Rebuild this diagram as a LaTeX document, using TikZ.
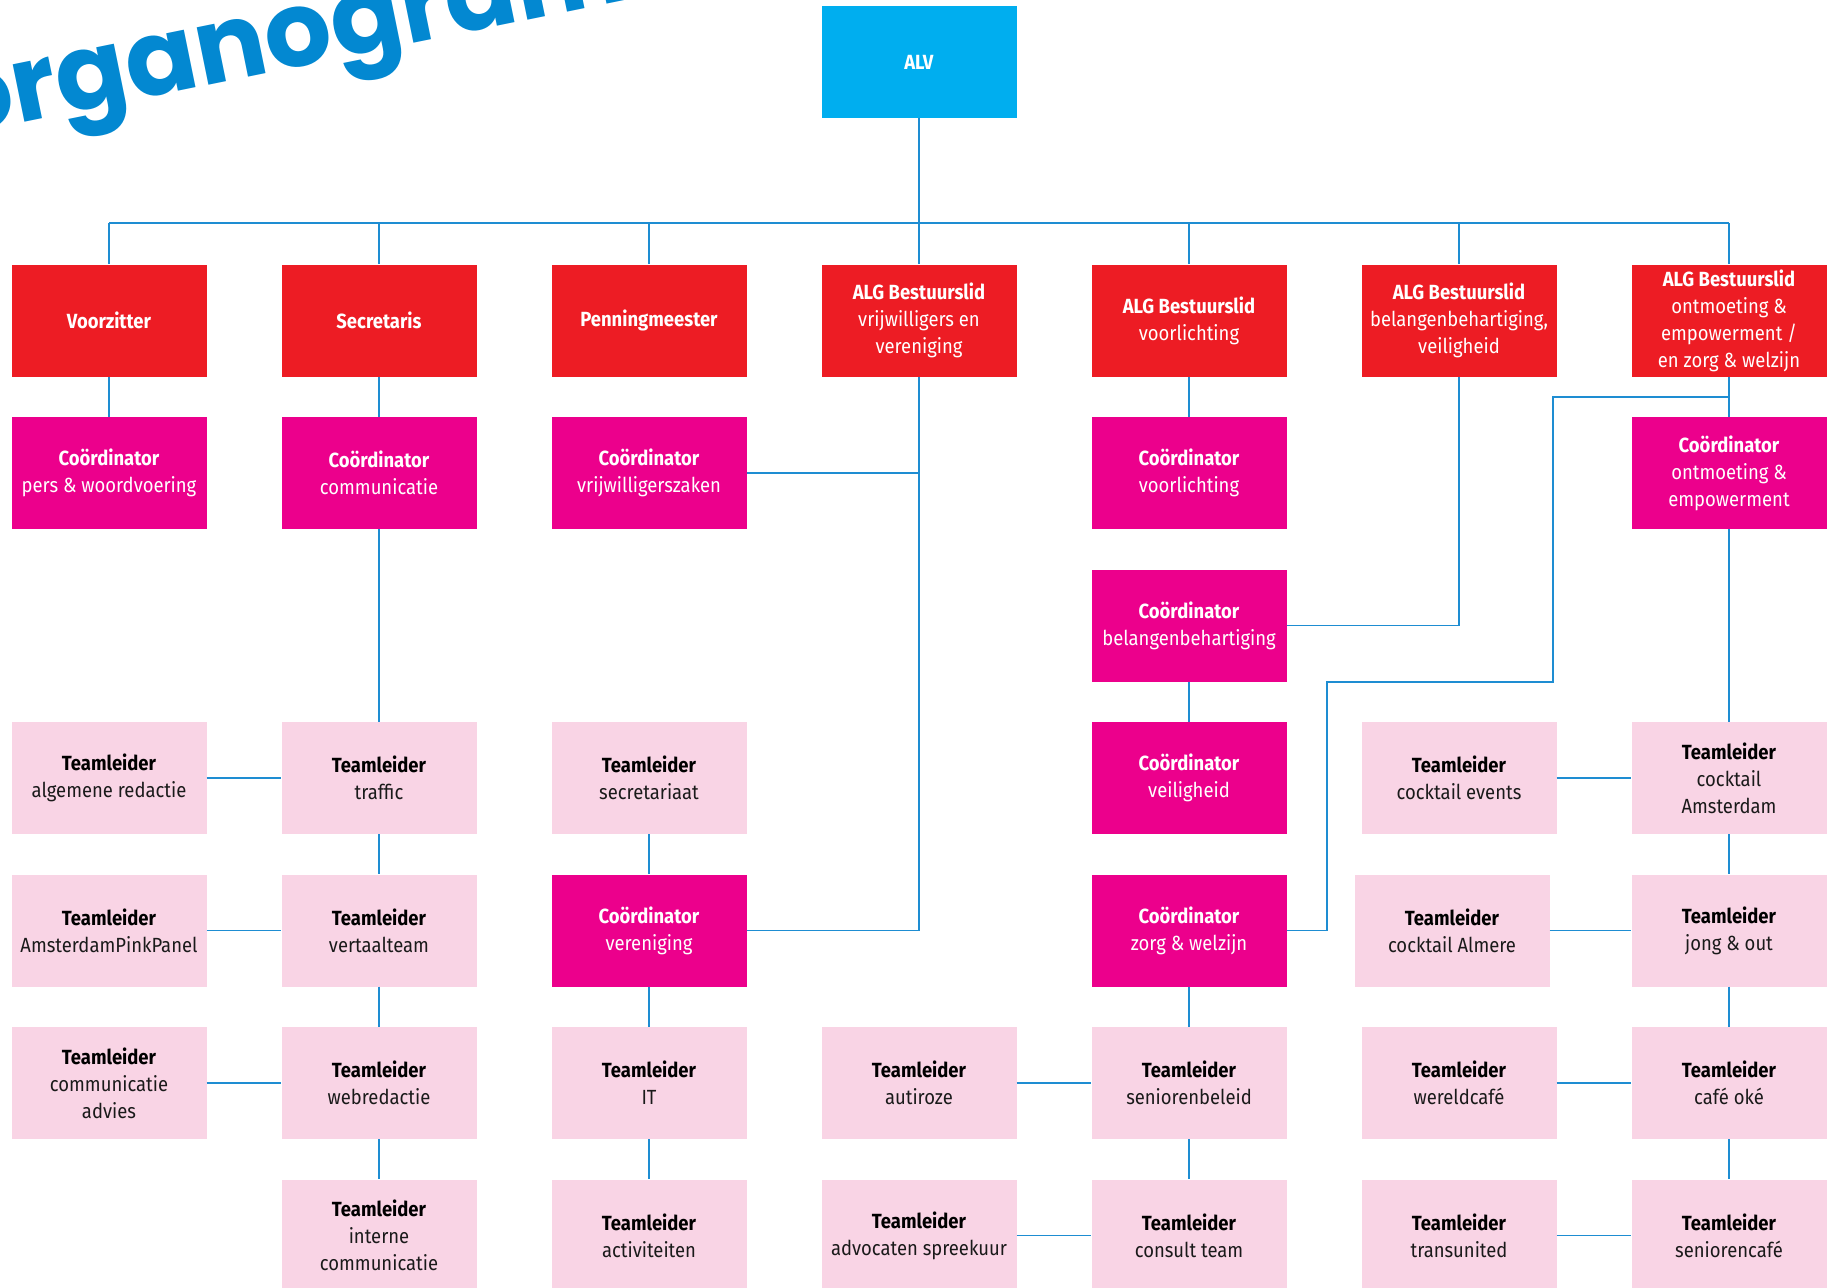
\documentclass[tikz,border=0pt]{standalone}
\usepackage{fontspec}
\setmainfont{Fira Sans}[FakeStretch=0.9]
\newfontfamily\titelfont{Poppins}
\usepackage{tikz}
\usetikzlibrary{positioning}
\definecolor{alvblue}{HTML}{00AEEF}
\definecolor{boardred}{HTML}{ED1C24}
\definecolor{coordpink}{HTML}{EC008C}
\definecolor{leadpink}{HTML}{F9D4E5}
\definecolor{linkblue}{HTML}{1E8DD2}
\definecolor{titelblue}{HTML}{0388D1}
\definecolor{leadtext}{HTML}{1A1A1A}
\tikzstyle{block} = [rectangle, minimum width=195pt, minimum height=112pt,
    inner sep=2pt, align=center, font=\fontsize{20.5}{27}\selectfont]
\tikzstyle{alv} = [block, fill=alvblue, text=white]
\tikzstyle{board} = [block, fill=boardred, text=white]
\tikzstyle{coord} = [block, fill=coordpink, text=white]
\tikzstyle{lead} = [block, fill=leadpink, text=leadtext]
\tikzstyle{link} = [draw=linkblue, line width=1.6pt]
\tikzstyle{titel} = [text=titelblue, inner sep=0pt,
    font=\titelfont\bfseries\fontsize{105}{110}\selectfont]
\newcommand{\teamleider}[1]{\textbf{\color{black}Teamleider}\\#1}
\newcommand{\coordinator}[1]{\textbf{Coördinator}\\#1}
\newcommand{\bestuurslid}[1]{\textbf{ALG Bestuurslid}\\#1}

\begin{document}
\begin{tikzpicture}[x=1pt, y=-1pt, node distance=152.5pt]
    \clip (0,0) rectangle (1830,1287);
    % titel
    \node [titel, rotate=11.5, anchor=base west] (titel) at (-47,137) {organogram};
    % bestuur
    \node [alv] (alv) at (919,62) {\textbf{ALV}};
    \node [board] (voorz) at (109,320.5) {\textbf{Voorzitter}};
    \node [board, right of=voorz, node distance=270pt] (secr) {\textbf{Secretaris}};
    \node [board, right of=secr, node distance=270pt] (penn) {\textbf{Penningmeester}};
    \node [board, right of=penn, node distance=270pt] (algvv) {\bestuurslid{vrijwilligers en\\vereniging}};
    \node [board, right of=algvv, node distance=270pt] (algvl) {\bestuurslid{voorlichting}};
    \node [board, right of=algvl, node distance=270pt] (algbv) {\bestuurslid{belangenbehartiging,\\veiligheid}};
    \node [board, right of=algbv, node distance=270pt] (algoz) {\bestuurslid{ontmoeting \&\\empowerment /\\en zorg \& welzijn}};
    % coordinatoren
    \node [coord, below of=voorz] (cpers) {\coordinator{pers \& woordvoering}};
    \node [coord, below of=secr] (ccomm) {\coordinator{communicatie}};
    \node [coord, below of=penn] (cvrijw) {\coordinator{vrijwilligerszaken}};
    \node [coord, below of=algvl] (cvoorl) {\coordinator{voorlichting}};
    \node [coord, below of=algoz] (contm) {\coordinator{ontmoeting \&\\empowerment}};
    \node [coord, below of=cvoorl] (cbelang) {\coordinator{belangenbehartiging}};
    \node [coord, below of=cbelang] (cveilig) {\coordinator{veiligheid}};
    \node [coord, below of=cveilig] (czorg) {\coordinator{zorg \& welzijn}};
    % teamleiders
    \node [lead, below of=ccomm, node distance=305pt] (ttraffic) {\teamleider{traffic}};
    \node [lead, left of=ttraffic, node distance=270pt] (tredactie) {\teamleider{algemene redactie}};
    \node [lead, right of=ttraffic, node distance=270pt] (tsecr) {\teamleider{secretariaat}};
    \node [lead, below of=contm, node distance=305pt] (tamsterdam) {\teamleider{cocktail\\Amsterdam}};
    \node [lead, left of=tamsterdam, node distance=270pt] (tevents) {\teamleider{cocktail events}};
    \node [lead, below of=tredactie] (tpink) {\teamleider{AmsterdamPinkPanel}};
    \node [lead, below of=ttraffic] (tvertaal) {\teamleider{vertaalteam}};
    \node [coord, below of=tsecr] (cvereniging) {\coordinator{vereniging}};
    \node [lead, below of=tevents, xshift=-7pt] (talmere) {\teamleider{cocktail Almere}};
    \node [lead, below of=tamsterdam] (tjong) {\teamleider{jong \& out}};
    \node [lead, below of=tpink] (tadvies) {\teamleider{communicatie\\advies}};
    \node [lead, below of=tvertaal] (tweb) {\teamleider{webredactie}};
    \node [lead, below of=cvereniging] (tit) {\teamleider{IT}};
    \node [lead, below of=czorg] (tsenior) {\teamleider{seniorenbeleid}};
    \node [lead, left of=tsenior, node distance=270pt] (tautiroze) {\teamleider{autiroze}};
    \node [lead, below of=tjong] (tcafe) {\teamleider{café oké}};
    \node [lead, left of=tcafe, node distance=270pt] (twereld) {\teamleider{wereldcafé}};
    \node [lead, below of=tweb] (tintern) {\teamleider{interne\\communicatie}};
    \node [lead, below of=tit] (tactiv) {\teamleider{activiteiten}};
    \node [lead, below of=tsenior] (tconsult) {\teamleider{consult team}};
    \node [lead, left of=tconsult, node distance=270pt] (tadvocaat) {\teamleider{advocaten spreekuur}};
    \node [lead, below of=tcafe] (tsenioren) {\teamleider{seniorencafé}};
    \node [lead, left of=tsenioren, node distance=270pt] (ttrans) {\teamleider{transunited}};
    % lijnen
    \coordinate (bus) at (919,223);
    \coordinate (ozA) at (1553,397);
    \coordinate (ozB) at (1327,682);
    \draw [link] (alv) -- (bus);
    \draw [link] (voorz |- bus) -- (algoz |- bus);
    \draw [link] (voorz |- bus) -- (voorz);
    \draw [link] (secr |- bus) -- (secr);
    \draw [link] (penn |- bus) -- (penn);
    \draw [link] (algvv |- bus) -- (algvv);
    \draw [link] (algvl |- bus) -- (algvl);
    \draw [link] (algbv |- bus) -- (algbv);
    \draw [link] (algoz |- bus) -- (algoz);
    \draw [link] (voorz) -- (cpers);
    \draw [link] (secr) -- (ccomm) -- (ttraffic) -- (tvertaal) -- (tweb) -- (tintern);
    \draw [link] (algvv) |- (cvereniging);
    \draw [link] (algvv |- cvrijw) -- (cvrijw);
    \draw [link] (algvl) -- (cvoorl);
    \draw [link] (algbv) |- (cbelang);
    \draw [link] (cbelang) -- (cveilig);
    \draw [link] (algoz) -- (contm) -- (tamsterdam) -- (tjong) -- (tcafe) -- (tsenioren);
    \draw [link] (algoz) |- (ozA) |- (ozB) |- (czorg);
    \draw [link] (tsecr) -- (cvereniging) -- (tit) -- (tactiv);
    \draw [link] (czorg) -- (tsenior) -- (tconsult);
    \draw [link] (tredactie) -- (ttraffic);
    \draw [link] (tpink) -- (tvertaal);
    \draw [link] (tadvies) -- (tweb);
    \draw [link] (tautiroze) -- (tsenior);
    \draw [link] (tadvocaat) -- (tconsult);
    \draw [link] (tevents) -- (tamsterdam);
    \draw [link] (talmere) -- (tjong);
    \draw [link] (twereld) -- (tcafe);
    \draw [link] (ttrans) -- (tsenioren);
\end{tikzpicture}
\end{document}
